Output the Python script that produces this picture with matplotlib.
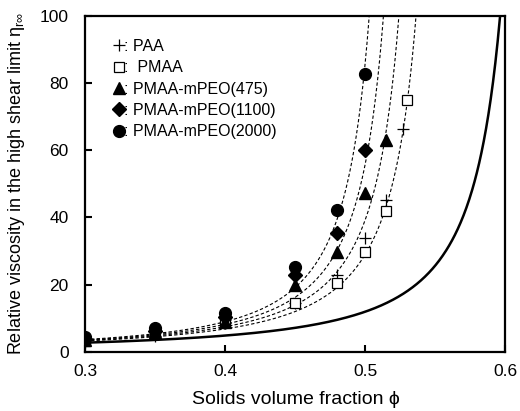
import numpy as np
import matplotlib
matplotlib.use("Agg")
import matplotlib.pyplot as plt

plt.rcParams['font.family'] = ['Liberation Sans', 'DejaVu Sans']

# ---- data ----
phi_paa = [0.30, 0.35, 0.40, 0.45, 0.48, 0.50, 0.515, 0.527]
eta_paa = [3.0, 4.8, 8.5, 14.7, 22.9, 33.8, 45.2, 66.3]

phi_pmaa = [0.30, 0.35, 0.40, 0.45, 0.48, 0.50, 0.515, 0.53]
eta_pmaa = [3.2, 5.5, 9.3, 14.6, 20.4, 29.7, 42.0, 75.0]

phi_475 = [0.30, 0.35, 0.40, 0.45, 0.48, 0.50, 0.515]
eta_475 = [3.6, 5.8, 9.0, 20.0, 29.7, 47.4, 63.1]

phi_1100 = [0.30, 0.35, 0.40, 0.45, 0.48, 0.50]
eta_1100 = [4.0, 6.3, 10.3, 22.9, 35.3, 60.1]

phi_2000 = [0.30, 0.35, 0.40, 0.45, 0.48, 0.50]
eta_2000 = [4.6, 7.0, 11.5, 25.4, 42.3, 82.7]

labels = [": PAA", ":  PMAA", ": PMAA-mPEO(475)", ": PMAA-mPEO(1100)", ": PMAA-mPEO(2000)"]

# Krieger-Dougherty model parameters
phi_max = 0.63
intrinsic = 2.5
# effective-volume shift factors of the dashed fit curves
shift_factors = [1.112, 1.138, 1.1625, 1.186]

x_ticks = [0.3, 0.4, 0.5, 0.6]
y_ticks = [0, 20, 40, 60, 80, 100]


def kd(phi_eff):
    return (1 - phi_eff / phi_max) ** (-intrinsic * phi_max)


fig = plt.figure(figsize=(5.2, 4.11), dpi=100)
ax = fig.add_axes([0.1644, 0.1436, 0.9721 - 0.1644, 0.9618 - 0.1436])

# solid hard-sphere curve
xs = np.linspace(0.3, 0.6299, 800)
ax.plot(xs, kd(xs), color='black', lw=1.8, zorder=2)

# dashed fit curves
for s in shift_factors:
    xd = np.linspace(0.3, phi_max / s - 1e-5, 600)
    ax.plot(xd, kd(xd * s), color='black', lw=0.8, dashes=(3, 2), zorder=2)

h1, = ax.plot(phi_paa, eta_paa, ls='none', marker='+', ms=9, mew=0.9, color='black', label=labels[0], zorder=3)
h2, = ax.plot(phi_pmaa, eta_pmaa, ls='none', marker='s', ms=6.5, mew=0.9, mfc='white', mec='black', label=labels[1], zorder=3)
h3, = ax.plot(phi_475, eta_475, ls='none', marker='^', ms=8, color='black', label=labels[2], zorder=3)
h4, = ax.plot(phi_1100, eta_1100, ls='none', marker='D', ms=7.3, color='black', label=labels[3], zorder=3)
h5, = ax.plot(phi_2000, eta_2000, ls='none', marker='o', ms=8.5, color='black', label=labels[4], zorder=3)

leg = ax.legend(handles=[h1, h2, h3, h4, h5], loc='upper left', frameon=False,
                handlelength=0.6, handletextpad=0.0, labelspacing=0.40,
                borderaxespad=0.0, bbox_to_anchor=(0.053, 0.95), fontsize=11.5)

ax.set_xlim(0.3, 0.6)
ax.set_ylim(0, 100)
ax.set_xticks(x_ticks)
ax.set_xticklabels([f"{v:.1f}" for v in x_ticks])
ax.set_yticks(y_ticks)
ax.tick_params(direction='in', length=5, width=1.5, labelsize=12.5, top=False, right=False)
ax.tick_params(axis='x', pad=9)
ax.tick_params(axis='y', pad=12)
for sp in ax.spines.values():
    sp.set_linewidth(1.6)

ax.set_xlabel("Solids volume fraction \u03d5", fontsize=14, labelpad=8)
ax.set_ylabel("Relative viscosity in the high shear limit $\\mathregular{\\eta_{r\\infty}}$", fontsize=13, labelpad=9)

fig.savefig("out.png", dpi=100)
